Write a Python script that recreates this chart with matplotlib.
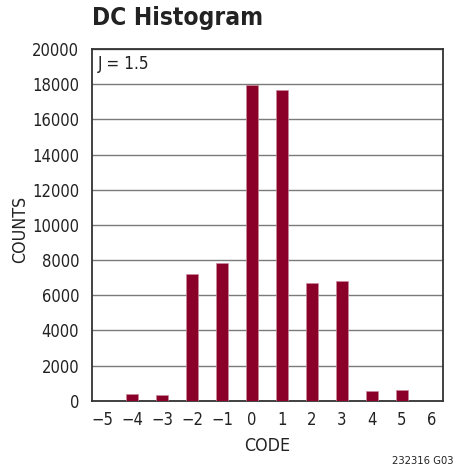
import matplotlib
matplotlib.use("Agg")
import matplotlib.pyplot as plt
from matplotlib import font_manager

codes = [-4, -3, -2, -1, 0, 1, 2, 3, 4, 5]
counts = [380, 340, 7200, 7830, 17930, 17690, 6680, 6810, 570, 600]
xticks = [-5, -4, -3, -2, -1, 0, 1, 2, 3, 4, 5, 6]
xtick_labels = ["\u22125", "\u22124", "\u22123", "\u22122", "\u22121", "0", "1", "2", "3", "4", "5", "6"]
yticks = list(range(0, 20001, 2000))

ttf = font_manager.fontManager.ttflist
cond = [f for f in ttf if ("Narrow" in f.name or "Condensed" in f.name
                           or str(f.stretch).lower() in ("condensed", "semi-condensed", "extra-condensed"))]
has_cond = len(cond) > 0
if any(f.name == "Liberation Sans Narrow" for f in ttf):
    plt.rcParams['font.family'] = ["Liberation Sans Narrow", "DejaVu Sans"]
    scale = 1.0
elif any(f.name == "DejaVu Sans" and str(f.stretch).lower() == "condensed" for f in ttf):
    plt.rcParams['font.family'] = ["DejaVu Sans"]
    plt.rcParams['font.stretch'] = "condensed"
    scale = 0.95
elif has_cond:
    plt.rcParams['font.family'] = [cond[0].name, "DejaVu Sans"]
    plt.rcParams['font.stretch'] = str(cond[0].stretch)
    scale = 1.0
else:
    plt.rcParams['font.family'] = ["Liberation Sans", "DejaVu Sans"]
    scale = 0.88

fig = plt.figure(figsize=(4.63, 4.70), dpi=100)
ax = fig.add_axes([0.198, 0.1474, 0.7595, 0.7483])

bar_color = "#8A0029"
ax.bar(codes, counts, width=0.4, color=bar_color, edgecolor="#C98A9A", linewidth=0.5, zorder=3)

fs = 13.5 * scale
ax.set_xlim(-5.35, 6.38)
ax.set_ylim(0, 20000)
ax.set_xticks(xticks)
ax.set_xticklabels(xtick_labels)
ax.set_yticks(yticks)
ax.set_yticklabels([str(v) for v in yticks])
ax.tick_params(axis='both', length=0, labelsize=fs * 0.93, colors="#222222")
ax.tick_params(axis='y', pad=9)
ax.tick_params(axis='x', pad=7.5)
ax.yaxis.grid(True, color="#7a7a7a", linewidth=1.0, zorder=0)
ax.set_axisbelow(True)
for s in ax.spines.values():
    s.set_color("#333333")
    s.set_linewidth(1.3)

ax.set_xlabel("CODE", fontsize=fs, color="#222222", labelpad=6)
ax.set_ylabel("COUNTS", fontsize=fs, color="#222222")
ax.yaxis.set_label_coords(-0.178, 0.486)

ax.text(0.018, 0.982, "J = 1.5", transform=ax.transAxes, ha="left", va="top",
        fontsize=fs * 0.96, color="#222222")

fig.text(92 / 463, 1 - 18 / 470, "DC Histogram", ha="left", va="center",
         fontsize=18.5 * scale, fontweight="bold", color="#222222")
fig.text(453 / 463, 1 - 461 / 470, "232316 G03", ha="right", va="center",
         fontsize=8, color="#222222")

fig.savefig("out.png", dpi=100)
